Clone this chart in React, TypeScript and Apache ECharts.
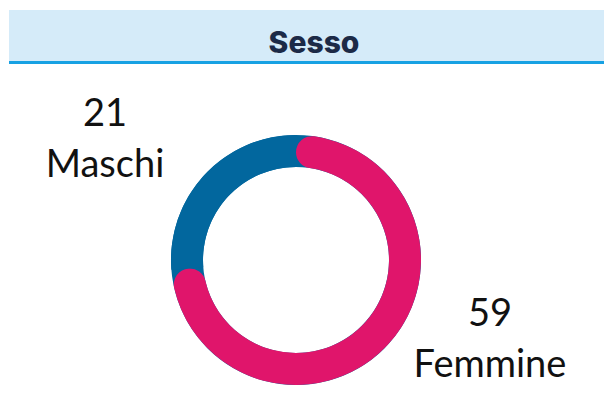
import React, { useEffect, useRef } from "react";
import * as echarts from "echarts";

const title = "Sesso";
const categories = ["Femmine", "Maschi"];
const values = [59, 21];
const colors = ["#e0156b", "#02679e"];
const labelSpots = [
  { x: 490, y: 336 },
  { x: 105, y: 136 },
];

export default function App() {
  const ref = useRef<HTMLDivElement>(null);
  useEffect(() => {
    if (!ref.current) return;
    const chart = echarts.init(ref.current, undefined, { renderer: "svg" });
    const total = values.reduce((a, b) => a + b, 0);
    const center = [296, 260];
    const radius = [93, 125];
    chart.setOption({
      animation: false,
      graphic: [
        { type: "rect", shape: { x: 9, y: 10, width: 595, height: 51 }, style: { fill: "#d5ebf9" }, z: 0 },
        { type: "rect", shape: { x: 9, y: 61, width: 595, height: 3 }, style: { fill: "#17a1e3" }, z: 0 },
      ],
      title: {
        text: title,
        left: 309,
        top: 22,
        textAlign: "center",
        textStyle: { fontFamily: "Inter", fontWeight: 800, fontSize: 30, color: "#1c2a47" },
        z: 5,
      },
      series: [
        {
          type: "pie",
          silent: true,
          center,
          radius,
          label: { show: false },
          labelLine: { show: false },
          data: [{ value: total, itemStyle: { color: colors[1] } }],
        },
        {
          type: "pie",
          center,
          radius,
          startAngle: 90,
          clockwise: true,
          silent: true,
          labelLine: { show: false },
          label: {
            show: true,
            formatter: "{c}\n{b}",
            fontFamily: "Lato",
            fontSize: 38,
            lineHeight: 51,
            color: "#111111",
            align: "center",
          },
          labelLayout: (p: any) => ({
            x: labelSpots[p.dataIndex].x,
            y: labelSpots[p.dataIndex].y,
            align: "center",
            verticalAlign: "middle",
          }),
          data: categories.map((c, i) => ({
            name: c,
            value: values[i],
            itemStyle: { color: colors[i], borderRadius: i === 0 ? 16 : 0, borderWidth: 0 },
          })),
        },
      ],
    });
    return () => chart.dispose();
  }, []);
  return (
    <div
      ref={ref}
      style={{ position: "absolute", left: 0, top: 0, width: 604, height: 410, background: "#fff" }}
    />
  );
}
